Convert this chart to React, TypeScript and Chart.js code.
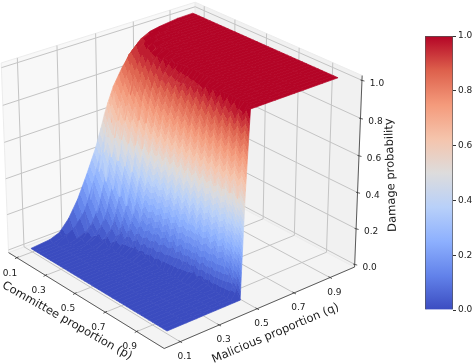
import React, { useEffect, useRef } from "react";
import { Chart, registerables } from "chart.js";

Chart.register(...registerables);

const pTicks = [0.1, 0.3, 0.5, 0.7, 0.9];
const qTicks = [0.1, 0.3, 0.5, 0.7, 0.9];
const zTicks = [0, 0.2, 0.4, 0.6, 0.8, 1];
const pTitle = "Committee proportion (p)";
const qTitle = "Malicious proportion (q)";
const zTitle = "Damage probability";

const qCols = [0.1, 0.2, 0.25, 0.3, 0.35, 0.4, 0.45, 0.48, 0.5, 0.52, 0.55, 0.6, 0.65, 0.7, 0.75, 0.8, 0.9, 0.985];
const pRows = [0.09, 0.113, 0.136, 0.159, 0.182, 0.205, 0.228, 0.252, 0.275, 0.298, 0.321, 0.344, 0.367, 0.39, 0.413, 0.436, 0.459, 0.482, 0.505, 0.528, 0.552, 0.575, 0.598, 0.621, 0.644, 0.667, 0.69, 0.713, 0.736, 0.759, 0.782, 0.805, 0.828, 0.852, 0.875, 0.898, 0.921, 0.944, 0.967, 0.99];
const damage = [
  [0, .01, .03, .09, .18, .3, .43, .53, .6, .66, .74, .83, .9, .95, .975, .985, .998, 1],
  [0, 0, .015, .03, .08, .17, .31, .41, .485, .56, .665, .8, .89, .945, .97, .985, .995, 1],
  [0, 0, .03, .065, .13, .275, .465, .58, .655, .73, .82, .915, .965, .985, .995, 1, 1, 1],
  [0, 0, 0, .015, .04, .115, .275, .4, .5, .59, .7, .85, .935, .98, .99, .995, 1, 1],
  [0, 0, 0, .015, .065, .19, .41, .56, .65, .74, .835, .945, .985, .995, 1, 1, 1, 1],
  [0, 0, 0, 0, .03, .09, .25, .4, .51, .61, .74, .9, .97, .995, 1, 1, 1, 1],
  [0, 0, 0, .015, .04, .155, .38, .54, .65, .75, .86, .955, .995, 1, 1, 1, 1, 1],
  [0, 0, 0, 0, .015, .065, .23, .39, .51, .63, .775, .93, .98, .995, 1, 1, 1, 1],
  [0, 0, 0, 0, .03, .105, .345, .52, .65, .76, .88, .97, .995, 1, 1, 1, 1, 1],
  [0, 0, 0, 0, 0, .055, .2, .38, .52, .65, .81, .95, .995, 1, 1, 1, 1, 1],
  [0, 0, 0, 0, .015, .08, .3, .5, .64, .76, .89, .98, 1, 1, 1, 1, 1, 1],
  [0, 0, 0, 0, 0, .04, .18, .365, .52, .655, .835, .965, 1, 1, 1, 1, 1, 1],
  [0, 0, 0, 0, 0, .055, .26, .485, .64, .765, .91, .985, 1, 1, 1, 1, 1, 1],
  [0, 0, 0, 0, 0, .03, .155, .355, .52, .675, .86, .98, 1, 1, 1, 1, 1, 1],
  [0, 0, 0, 0, 0, .04, .2, .43, .61, .75, .91, .995, 1, 1, 1, 1, 1, 1],
  [0, 0, 0, 0, 0, .015, .17, .38, .55, .71, .89, .985, 1, 1, 1, 1, 1, 1],
  [0, 0, 0, 0, 0, .03, .18, .41, .61, .765, .92, .995, 1, 1, 1, 1, 1, 1],
  [0, 0, 0, 0, 0, .015, .145, .365, .55, .73, .905, .995, 1, 1, 1, 1, 1, 1],
  [0, 0, 0, 0, 0, .015, .155, .4, .61, .785, .93, 1, 1, 1, 1, 1, 1, 1],
  [0, 0, 0, 0, 0, 0, .115, .345, .55, .74, .925, .995, 1, 1, 1, 1, 1, 1],
  [0, 0, 0, 0, 0, .015, .13, .38, .61, .79, .95, 1, 1, 1, 1, 1, 1, 1],
  [0, 0, 0, 0, 0, 0, .09, .32, .55, .76, .935, 1, 1, 1, 1, 1, 1, 1],
  [0, 0, 0, 0, 0, 0, .105, .365, .61, .81, .955, 1, 1, 1, 1, 1, 1, 1],
  [0, 0, 0, 0, 0, 0, .065, .3, .55, .775, .95, 1, 1, 1, 1, 1, 1, 1],
  [0, 0, 0, 0, 0, 0, .08, .345, .61, .83, .97, 1, 1, 1, 1, 1, 1, 1],
  [0, 0, 0, 0, 0, 0, .055, .275, .55, .79, .96, 1, 1, 1, 1, 1, 1, 1],
  [0, 0, 0, 0, 0, 0, .055, .32, .61, .845, .985, 1, 1, 1, 1, 1, 1, 1],
  [0, 0, 0, 0, 0, 0, .04, .25, .55, .81, .98, 1, 1, 1, 1, 1, 1, 1],
  [0, 0, 0, 0, 0, 0, .04, .29, .61, .87, .985, 1, 1, 1, 1, 1, 1, 1],
  [0, 0, 0, 0, 0, 0, .015, .23, .55, .83, .98, 1, 1, 1, 1, 1, 1, 1],
  [0, 0, 0, 0, 0, 0, .03, .25, .62, .89, .995, 1, 1, 1, 1, 1, 1, 1],
  [0, 0, 0, 0, 0, 0, .015, .19, .54, .85, .995, 1, 1, 1, 1, 1, 1, 1],
  [0, 0, 0, 0, 0, 0, .015, .215, .62, .91, 1, 1, 1, 1, 1, 1, 1, 1],
  [0, 0, 0, 0, 0, 0, 0, .155, .54, .88, 1, 1, 1, 1, 1, 1, 1, 1],
  [0, 0, 0, 0, 0, 0, 0, .17, .63, .95, 1, 1, 1, 1, 1, 1, 1, 1],
  [0, 0, 0, 0, 0, 0, 0, .115, .53, .915, 1, 1, 1, 1, 1, 1, 1, 1],
  [0, 0, 0, 0, 0, 0, 0, .105, .64, .97, 1, 1, 1, 1, 1, 1, 1, 1],
  [0, 0, 0, 0, 0, 0, 0, .055, .52, .96, 1, 1, 1, 1, 1, 1, 1, 1],
  [0, 0, 0, 0, 0, 0, 0, .04, .66, .995, 1, 1, 1, 1, 1, 1, 1, 1],
  [0, 0, 0, 0, 0, 0, 0, 0, .58, 1, 1, 1, 1, 1, 1, 1, 1, 1],
];

const colorStops: [number, number[]][] = [
  [0, [59, 76, 192]], [0.125, [98, 130, 234]], [0.25, [141, 176, 254]], [0.375, [184, 208, 249]],
  [0.5, [221, 220, 220]], [0.625, [245, 196, 172]], [0.75, [244, 154, 123]], [0.875, [221, 96, 76]], [1, [180, 4, 38]],
];

const P_LIM = [0.04, 1.07];
const Q_LIM = [0.02, 1.04];
const Z_LIM = [-0.015, 1.025];
const COLOR_LEVELS = 30;
const TOOTH_SLANT = 0.9;
const TOOTH_MAX = 7;

const FONT = '"DejaVu Sans"';
const INK = "#1a1a1a";

function coolwarm(v: number) {
  const t = Math.max(0, Math.min(1, v));
  for (let i = 1; i < colorStops.length; i++) {
    if (t <= colorStops[i][0]) {
      const [a, ca] = colorStops[i - 1];
      const [b, cb] = colorStops[i];
      const f = (t - a) / (b - a);
      const c = ca.map((x, k) => Math.round(x + (cb[k] - x) * f));
      return `rgb(${c[0]},${c[1]},${c[2]})`;
    }
  }
  return "rgb(180,4,38)";
}
const bandOf = (z: number) => Math.min(COLOR_LEVELS - 1, Math.floor(z * COLOR_LEVELS));
const bandColor = (n: number) => coolwarm(n / (COLOR_LEVELS - 1));

const rad = Math.PI / 180;
const EL = 26 * rad;
const AZ = -40 * rad;
const BOX = [4, 4, 3.38];
const DIST = 35;
const SCALE = 62.7;
const OX = 180.5;
const OY = 166.5;

function view(p: number, q: number, z: number) {
  const X = ((p - P_LIM[0]) / (P_LIM[1] - P_LIM[0]) - 0.5) * BOX[0];
  const Y = ((q - Q_LIM[0]) / (Q_LIM[1] - Q_LIM[0]) - 0.5) * BOX[1];
  const Z = ((z - Z_LIM[0]) / (Z_LIM[1] - Z_LIM[0]) - 0.5) * BOX[2];
  const r = -Math.sin(AZ) * X + Math.cos(AZ) * Y;
  const u = -Math.cos(AZ) * Math.sin(EL) * X - Math.sin(AZ) * Math.sin(EL) * Y + Math.cos(EL) * Z;
  const w = Math.cos(AZ) * Math.cos(EL) * X + Math.sin(AZ) * Math.cos(EL) * Y + Math.sin(EL) * Z;
  const f = DIST / (DIST - w);
  return { x: OX + SCALE * r * f, y: OY - SCALE * u * f, depth: w };
}
const pt = (p: number, q: number, z: number) => {
  const v = view(p, q, z);
  return { x: v.x, y: v.y };
};

function shape(points: { x: number; y: number }[], fill: any, stroke: any, width: number) {
  return {
    data: [...points, points[0]],
    showLine: true, parsing: false, normalized: false, pointRadius: 0, fill: "shape",
    backgroundColor: fill, borderColor: stroke, borderWidth: width, borderDash: [1000, 0], tension: 0,
  };
}
function path(points: { x: number; y: number }[], color: string, width: number) {
  return {
    data: points,
    showLine: true, parsing: false, normalized: false, pointRadius: 0, fill: false,
    borderColor: color, borderWidth: width, borderDash: [1000, 0], tension: 0,
  };
}

function cellPaint(ctx: CanvasRenderingContext2D, i: number, j: number, a: any, b: any, c: any, d: any) {
  const zLo = (damage[i][j] + damage[i + 1][j]) / 2;
  const zHi = (damage[i][j + 1] + damage[i + 1][j + 1]) / 2;
  const nLo = bandOf(zLo), nHi = bandOf(zHi);
  if (nLo === nHi) return bandColor(nLo);
  // colour bands follow the cell's low edge, with the height part of that edge softened and capped
  const a0 = view(pRows[i], qCols[j], zLo), b0 = view(pRows[i + 1], qCols[j], zLo);
  const rise = Math.max(-TOOTH_MAX, Math.min(TOOTH_MAX, TOOTH_SLANT * (b.y - a.y - (b0.y - a0.y))));
  const ex = b0.x - a0.x, ey = b0.y - a0.y + rise;
  const len = Math.hypot(ex, ey) || 1;
  const nx = -ey / len, ny = ex / len;
  const loX = (a.x + b.x) / 2, loY = (a.y + b.y) / 2, hiX = (c.x + d.x) / 2, hiY = (c.y + d.y) / 2;
  const t = (hiX - loX) * nx + (hiY - loY) * ny;
  if (Math.abs(t) < 1) return bandColor(bandOf((zLo + zHi) / 2));
  const g = ctx.createLinearGradient(loX, loY, loX + nx * t, loY + ny * t);
  g.addColorStop(0, bandColor(nLo));
  for (let n = nLo + 1; n <= nHi; n++) {
    const at = Math.max(0, Math.min(1, (n / COLOR_LEVELS - zLo) / (zHi - zLo)));
    g.addColorStop(at, bandColor(n - 1));
    g.addColorStop(at, bandColor(n));
  }
  g.addColorStop(1, bandColor(nHi));
  return g;
}

function buildDatasets(ctx: CanvasRenderingContext2D) {
  const [p0, p1] = P_LIM, [q0, q1] = Q_LIM, [z0, z1] = Z_LIM;
  const out: any[] = [];
  out.push(shape([pt(p0, q0, z0), pt(p1, q0, z0), pt(p1, q1, z0), pt(p0, q1, z0)], "#f4f4f4", "#ececec", 1));
  out.push(shape([pt(p0, q0, z0), pt(p0, q1, z0), pt(p0, q1, z1), pt(p0, q0, z1)], "#f8f8f8", "#ececec", 1));
  out.push(shape([pt(p0, q1, z0), pt(p1, q1, z0), pt(p1, q1, z1), pt(p0, q1, z1)], "#f1f1f1", "#ececec", 1));
  const GRID = "#c4c4c4";
  for (const p of pTicks) out.push(path([pt(p, q0, z0), pt(p, q1, z0), pt(p, q1, z1)], GRID, 1));
  for (const q of qTicks) out.push(path([pt(p1, q, z0), pt(p0, q, z0), pt(p0, q, z1)], GRID, 1));
  for (const z of zTicks) out.push(path([pt(p0, q0, z), pt(p0, q1, z), pt(p1, q1, z)], GRID, 1));

  const cells: { depth: number; ds: any }[] = [];
  for (let i = 0; i < pRows.length - 1; i++) {
    for (let j = 0; j < qCols.length - 1; j++) {
      const a = view(pRows[i], qCols[j], damage[i][j]);
      const b = view(pRows[i + 1], qCols[j], damage[i + 1][j]);
      const c = view(pRows[i + 1], qCols[j + 1], damage[i + 1][j + 1]);
      const d = view(pRows[i], qCols[j + 1], damage[i][j + 1]);
      const g = cellPaint(ctx, i, j, a, b, c, d);
      const quad = [a, b, c, d].map((v) => ({ x: v.x, y: v.y }));
      cells.push({ depth: (a.depth + b.depth + c.depth + d.depth) / 4, ds: shape(quad, g, g, 0.7) });
    }
  }
  cells.sort((m, n) => m.depth - n.depth);
  out.push(...cells.map((c) => c.ds));

  const AXIS = "#333333";
  out.push(path([pt(p0, q0, z0), pt(p1, q0, z0)], AXIS, 0.8));
  out.push(path([pt(p1, q0, z0), pt(p1, q1, z0)], AXIS, 0.8));
  out.push(path([pt(p1, q1, z0), pt(p1, q1, z1)], AXIS, 0.8));
  const shift = (v: { x: number; y: number }, dx: number, dy: number) => ({ x: v.x + dx, y: v.y + dy });
  for (const p of pTicks) { const v = pt(p, q0, z0); out.push(path([shift(v, 1.5, -1), shift(v, -2, 1)], AXIS, 0.8)); }
  for (const q of qTicks) { const v = pt(p1, q, z0); out.push(path([shift(v, -1.5, -1), shift(v, 2, 1)], AXIS, 0.8)); }
  for (const z of zTicks) { const v = pt(p1, q1, z); out.push(path([shift(v, -1.5, -0.3), shift(v, 2.5, 0.7)], AXIS, 0.8)); }
  return out.reverse();
}

const labelsPlugin = {
  id: "boxLabels",
  afterDraw(chart: any) {
    const c: CanvasRenderingContext2D = chart.ctx;
    const [, p1] = P_LIM, [q0, q1] = Q_LIM, [z0] = Z_LIM;
    c.save();
    c.fillStyle = INK;
    c.textAlign = "center";
    c.textBaseline = "middle";
    c.font = `9px ${FONT}`;
    for (const p of pTicks) { const v = pt(p, q0, z0); c.fillText(p.toFixed(1), v.x - 7, v.y + 15.5); }
    for (const q of qTicks) { const v = pt(p1, q, z0); c.fillText(q.toFixed(1), v.x + 4.5, v.y + 15); }
    for (const z of zTicks) { const v = pt(p1, q1, z); c.fillText(z.toFixed(1), v.x + 15, v.y + 3); }
    const rotated = (s: string, x: number, y: number, deg: number, size: number) => {
      c.save();
      c.translate(x, y);
      c.rotate(deg * rad);
      c.font = `${size}px ${FONT}`;
      c.fillText(s, 0, 0);
      c.restore();
    };
    rotated(pTitle, 67, 321, 29.5, 11.5);
    rotated(qTitle, 275.5, 333.5, -23, 11.5);
    rotated(zTitle, 391, 175, -92, 11.5);
    c.restore();
  },
};

export default function App() {
  const mainRef = useRef<HTMLCanvasElement>(null);
  const barRef = useRef<HTMLCanvasElement>(null);
  useEffect(() => {
    const main = new Chart(mainRef.current!, {
      type: "scatter",
      data: { datasets: buildDatasets(mainRef.current!.getContext("2d")!) as any },
      options: {
        animation: false, responsive: false, events: [],
        layout: { padding: 0 },
        scales: {
          x: { type: "linear", min: 0, max: 472, display: false },
          y: { type: "linear", min: 0, max: 364, reverse: true, display: false },
        },
        plugins: { legend: { display: false }, tooltip: { enabled: false } },
      },
      plugins: [labelsPlugin],
    });
    const bar = new Chart(barRef.current!, {
      type: "bar",
      data: {
        labels: [""],
        datasets: [{
          data: [1],
          barPercentage: 1,
          categoryPercentage: 1,
          borderWidth: 1,
          borderColor: "#555555",
          backgroundColor: (ctx: any) => {
            const area = ctx.chart.chartArea;
            if (!area) return "#dddddd";
            const g = ctx.chart.ctx.createLinearGradient(0, area.bottom, 0, area.top);
            for (const [s, c] of colorStops) g.addColorStop(s, `rgb(${c[0]},${c[1]},${c[2]})`);
            return g;
          },
        }],
      },
      options: {
        animation: false, responsive: false, events: [],
        layout: { padding: { top: 36, bottom: 54, left: 5, right: 0 } },
        scales: {
          x: { display: false },
          y: {
            position: "right", min: 0, max: 1,
            afterFit: (s: any) => { s.width = 19; },
            grid: { drawOnChartArea: false, drawTicks: true, tickLength: 3, color: "#333333" },
            border: { display: false },
            ticks: { stepSize: 0.2, padding: 2, color: INK, font: { family: FONT, size: 9 }, callback: (v: any) => Number(v).toFixed(1) },
          },
        },
        plugins: { legend: { display: false }, tooltip: { enabled: false } },
      },
    });
    return () => { main.destroy(); bar.destroy(); };
  }, []);
  return (
    <div style={{ position: "fixed", left: 0, top: 0, width: 472, height: 364, overflow: "hidden", background: "#fff" }}>
      <canvas ref={mainRef} width={472} height={364} style={{ position: "absolute", left: 0, top: 0 }} />
      <canvas ref={barRef} width={52} height={364} style={{ position: "absolute", left: 420, top: 0 }} />
    </div>
  );
}
